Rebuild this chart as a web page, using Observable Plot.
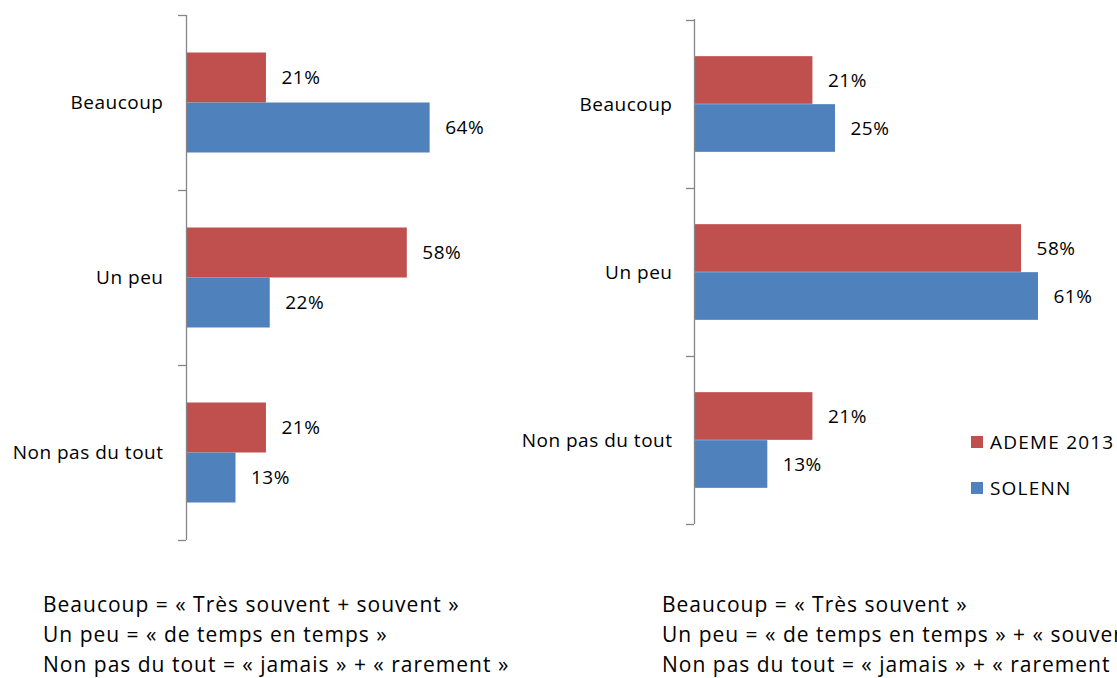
<!DOCTYPE html>
<html>
<head>
<meta charset="utf-8">
<script src="https://cdn.jsdelivr.net/npm/d3@7"></script>
<script src="https://cdn.jsdelivr.net/npm/@observablehq/plot@0.6"></script>
<style>
  html, body { margin: 0; padding: 0; background: #fff; width: 1117px; height: 678px; overflow: hidden; }
  body { position: relative; font-family: "Open Sans", sans-serif; color: #000; }
  .panel { position: absolute; top: 0; }
  .caption { position: absolute; font-size: 21px; line-height: 30px; white-space: nowrap; letter-spacing: 1px; }
  .legend { position: absolute; left: 971px; top: 430px; font-size: 19px; letter-spacing: 1.2px; white-space: nowrap; }
  .legend .item { display: flex; align-items: center; height: 23px; margin-bottom: 23px; }
  .legend .sw { width: 12px; height: 12px; margin-right: 7px; }
</style>
</head>
<body>
<div id="left" class="panel" style="left:0px"></div>
<div id="right" class="panel" style="left:500px"></div>
<div id="legend" class="legend"></div>
<div id="capLeft" class="caption" style="left:43px; top:589px"></div>
<div id="capRight" class="caption" style="left:662px; top:589px"></div>
<script>
// ---- data ----
const categories = ["Beaucoup", "Un peu", "Non pas du tout"];
const series = ["ADEME 2013", "SOLENN"];
const colors = ["#C0504D", "#4F81BD"];
const leftAdeme = [21, 58, 21];
const leftSolenn = [64, 22, 13];
const rightAdeme = [21, 58, 21];
const rightSolenn = [25, 61, 13];
const captionLeft = [
  "Beaucoup = « Très souvent + souvent »",
  "Un peu = « de temps en temps »",
  "Non pas du tout = « jamais » + « rarement »"
];
const captionRight = [
  "Beaucoup = « Très souvent »",
  "Un peu = « de temps en temps » + « souvent »",
  "Non pas du tout = « jamais » + « rarement »"
];

const axisColor = "#868686";

function rowsFor(a, b) {
  return categories.flatMap((c, i) => [
    {category: c, series: series[0], value: a[i]},
    {category: c, series: series[1], value: b[i]}
  ]);
}

function edgeTicks(len) {
  return (index, scales) => {
    const starts = categories.map(c => scales.y(c));
    const bw = starts[1] - starts[0];
    const edges = [...starts, starts[starts.length - 1] + bw];
    const x0 = scales.x(0);
    const g = d3.create("svg:g").attr("stroke", axisColor).attr("stroke-width", 1.3);
    g.selectAll("line").data(edges).join("line")
      .attr("x1", x0 - len).attr("x2", x0)
      .attr("y1", d => Math.round(d) + 0.5).attr("y2", d => Math.round(d) + 0.5);
    return g.node();
  };
}

function panel({rows, width, height, top, bottom, xRange, thick, labelGap}) {
  const bw = (height - top - bottom) / categories.length;
  const outer = (bw - 2 * thick) / 2;
  return Plot.plot({
    width, height,
    marginTop: top, marginBottom: bottom, marginLeft: xRange[0], marginRight: 0,
    style: {fontFamily: "Open Sans, sans-serif", fontSize: "19px", color: "#000", letterSpacing: "0.5px", background: "transparent"},
    x: {domain: [0, 100], range: xRange, axis: null},
    y: {domain: categories, padding: 0, tickSize: 0, tickPadding: labelGap, label: null},
    color: {domain: series, range: colors},
    marks: [
      Plot.barX(rows.filter(d => d.series === series[0]), {x: "value", y: "category", fill: "series", insetTop: outer, insetBottom: outer + thick}),
      Plot.barX(rows.filter(d => d.series === series[1]), {x: "value", y: "category", fill: "series", insetTop: outer + thick, insetBottom: outer}),
      Plot.text(rows.filter(d => d.series === series[0]), {x: "value", y: "category", text: d => d.value + "%", dx: 15, dy: -thick / 2, textAnchor: "start", fill: "#000"}),
      Plot.text(rows.filter(d => d.series === series[1]), {x: "value", y: "category", text: d => d.value + "%", dx: 15, dy: thick / 2, textAnchor: "start", fill: "#000"}),
      Plot.ruleX([0], {stroke: axisColor, strokeWidth: 1.3}),
      edgeTicks(8)
    ]
  });
}

document.getElementById("left").append(panel({
  rows: rowsFor(leftAdeme, leftSolenn), width: 560, height: 560, top: 15, bottom: 20,
  xRange: [186, 186 + 380.7], thick: 50, labelGap: 23
}));
document.getElementById("right").append(panel({
  rows: rowsFor(rightAdeme, rightSolenn), width: 617, height: 545, top: 19, bottom: 21,
  xRange: [194, 194 + 563.9], thick: 48, labelGap: 22
}));

const legend = d3.select("#legend");
series.forEach((s, i) => {
  const it = legend.append("div").attr("class", "item");
  it.append("div").attr("class", "sw").style("background", colors[i]);
  it.append("span").text(s);
});

d3.select("#capLeft").selectAll("div").data(captionLeft).join("div").text(d => d);
d3.select("#capRight").selectAll("div").data(captionRight).join("div").text(d => d);
</script>
</body>
</html>
